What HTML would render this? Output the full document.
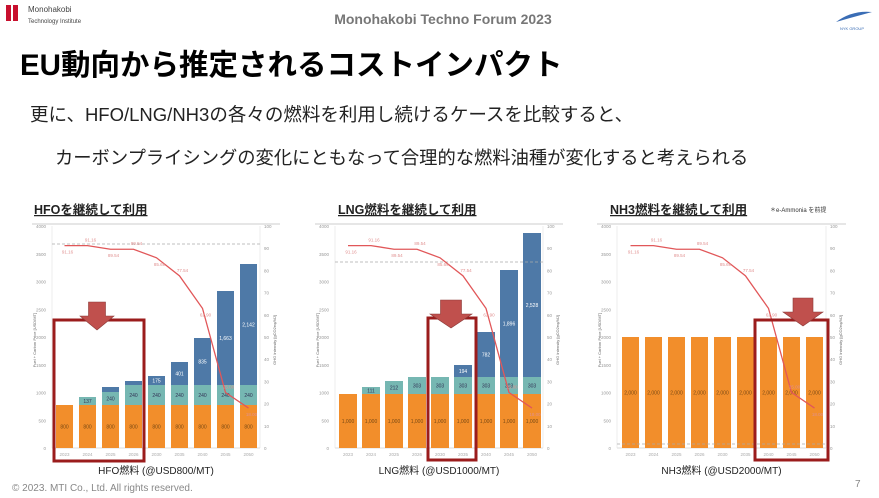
<!DOCTYPE html>
<html><head><meta charset="utf-8">
<style>
html,body{margin:0;padding:0;background:#fff;}
svg{display:block;font-family:"Liberation Sans","Noto Sans CJK JP",sans-serif;}
</style></head>
<body>
<svg id="s" width="879" height="498" viewBox="0 0 879 498" xmlns="http://www.w3.org/2000/svg">
<rect x="6" y="5" width="5" height="16" fill="#c8102e"/><rect x="13" y="5" width="5" height="16" fill="#c8102e"/>
<text x="28" y="12" font-size="8" fill="#444">Monohakobi</text>
<text x="28" y="23" font-size="6" fill="#444">Technology Institute</text>
<text x="443" y="24" font-size="14" font-weight="bold" fill="#777" text-anchor="middle">Monohakobi Techno Forum 2023</text>
<path d="M836 22 Q852 10 872 12 L850 18 Z" fill="#3a6db5"/>
<text x="852" y="30" font-size="4" fill="#3a6db5" text-anchor="middle">NYK GROUP</text>
<text x="20" y="75" font-size="29.5" font-weight="bold" fill="#000">EU動向から推定されるコストインパクト</text>
<text x="30" y="121" font-size="18.5" fill="#222">更に、HFO/LNG/NH3の各々の燃料を利用し続けるケースを比較すると、</text>
<text x="55" y="164" font-size="18.3" fill="#222">カーボンプライシングの変化にともなって合理的な燃料油種が変化すると考えられる</text>
<g id="charts"></g>
<text x="12" y="491" font-size="10" fill="#888">© 2023. MTI Co., Ltd. All rights reserved.</text>
<text x="855" y="487" font-size="10" fill="#888">7</text>
</svg>
<script>
const g=document.getElementById('charts');let h='';
const Y0=448,Y4=226;
const lineVals=[91.16,91.16,89.54,89.54,85.69,77.54,62.9,25,18];
const yr=['2023','2024','2025','2026','2030','2035','2040','2045','2050'];
function chart(o){
 const {bx,pw,L,R,title,cap,bars,dash,box,arrow,tx}=o;
 h+=`<line x1="${L-20}" y1="${Y4-2}" x2="${R+20}" y2="${Y4-2}" stroke="#e6e6e6" stroke-width="2"/>`;
 for(let i=0;i<=8;i++){const y=Y0-i*(Y0-Y4)/8;
  h+=`<text x="${L-6}" y="${y+2}" font-size="4.5" fill="#999" text-anchor="end">${i*500}</text>`;}
 for(let i=0;i<=10;i++){const y=Y0-i*(Y0-Y4)/10;
  h+=`<text x="${R+4}" y="${y+2}" font-size="4.5" fill="#999">${i*10}</text>`;}
 h+=`<line x1="${L}" y1="${Y4}" x2="${L}" y2="${Y0}" stroke="#eee"/><line x1="${R}" y1="${Y4}" x2="${R}" y2="${Y0}" stroke="#eee"/>`;
 h+=`<line x1="${L}" y1="${Y0}" x2="${R}" y2="${Y0}" stroke="#ddd"/>`;
 bars.forEach((b,i)=>{const x=bx+i*23;
  h+=`<rect x="${x}" y="${b[0]}" width="${pw}" height="${Y0-b[0]}" fill="#f28e2b"/>`;
  h+=`<text x="${x+pw/2}" y="${(b[0]+Y0)/2+2}" font-size="5" fill="#7a4a14" text-anchor="middle">${b[3]}</text>`;
  if(b[1]<b[0]){h+=`<rect x="${x}" y="${b[1]}" width="${pw}" height="${b[0]-b[1]}" fill="#76b7b2"/>`;
   h+=`<text x="${x+pw/2}" y="${(b[0]+b[1])/2+2}" font-size="5" fill="#335" text-anchor="middle">${b[4]}</text>`;}
  if(b[2]<b[1]){h+=`<rect x="${x}" y="${b[2]}" width="${pw}" height="${b[1]-b[2]}" fill="#4e79a7"/>`;
   if(b[1]-b[2]>8)h+=`<text x="${x+pw/2}" y="${(b[1]+b[2])/2+2}" font-size="5" fill="#fff" text-anchor="middle">${b[5]}</text>`;}
  h+=`<text x="${x+pw/2}" y="456" font-size="4.5" fill="#aaa" text-anchor="middle">${yr[i]}</text>`;});
 if(dash)h+=`<line x1="${L}" y1="${dash}" x2="${R}" y2="${dash}" stroke="#aaa" stroke-dasharray="3,2" stroke-width="0.7"/>`;
 let p=lineVals.map((v,i)=>`${bx+i*23+pw/2},${Y0-v*2.22}`).join(' ');
 h+=`<polyline points="${p}" fill="none" stroke="#e15759" stroke-width="1.3"/>`;
 lineVals.forEach((v,i)=>{h+=`<text x="${bx+i*23+pw/2+3}" y="${Y0-v*2.22+(i%2?-4:8)}" font-size="4.5" fill="#e09090" text-anchor="middle">${v.toFixed(2)}</text>`;});
 h+=`<text x="${L-16}" y="340" font-size="4" fill="#666" transform="rotate(-90 ${L-16} 340)" text-anchor="middle">Fuel + Carbon Price [USD/MT]</text>`;
 h+=`<text x="${R+16}" y="340" font-size="4" fill="#666" transform="rotate(-90 ${R+16} 340)" text-anchor="middle">GHG Intensity [gCO2eq/MJ]</text>`;
 h+=`<text x="${tx}" y="214" font-size="12.5" font-weight="bold" fill="#222" text-decoration="underline">${title}</text>`;
 h+=`<text x="${(L+R)/2}" y="474" font-size="10" fill="#222" text-anchor="middle">${cap}</text>`;
 h+=`<rect x="${box[0]}" y="${box[1]}" width="${box[2]-box[0]}" height="${box[3]-box[1]}" fill="none" stroke="#9b1c1c" stroke-width="3"/>`;
 const [ax,ay,aw]=arrow;
 h+=`<path d="M${ax+aw*0.25} ${ay} h${aw*0.5} v14 h${aw*0.25} l-${aw/2} 14 l-${aw/2} -14 h${aw*0.25} z" fill="#c0504d" stroke="#8b3a38" stroke-width="0.6"/>`;
}
chart({bx:56,pw:17,L:52,R:260,tx:34,title:'HFOを継続して利用',cap:'HFO燃料 (@USD800/MT)',dash:244,
 bars:[[405,405,405,'800','0',''],[405,397,397,'800','137',''],[405,392,387,'800','240','64'],[405,385,381,'800','240','88'],[405,385,376,'800','240','175'],[405,385,362,'800','240','401'],[405,385,338,'800','240','835'],[405,385,291,'800','240','1,663'],[405,385,264,'800','240','2,142']],
 box:[54,320,144,461],arrow:[80,302,34]});
chart({bx:339,pw:18,L:335,R:543,tx:338,title:'LNG燃料を継続して利用',cap:'LNG燃料 (@USD1000/MT)',dash:262,
 bars:[[394,394,394,'1,000','0',''],[394,387,387,'1,000','111',''],[394,381,381,'1,000','212',''],[394,377,377,'1,000','303',''],[394,377,377,'1,000','303',''],[394,377,365,'1,000','303','194'],[394,377,332,'1,000','303','782'],[394,377,270,'1,000','303','1,896'],[394,377,233,'1,000','303','2,528']],
 box:[428,318,476,460],arrow:[430,300,42]});
chart({bx:622,pw:17,L:617,R:826,tx:610,title:'NH3燃料を継続して利用',cap:'NH3燃料 (@USD2000/MT)',dash:444,
 bars:Array(9).fill([337,337,337,'2,000','','']),
 box:[755,320,828,460],arrow:[783,298,40]});
h+=`<text x="770" y="212" font-size="6" fill="#333">＊e-Ammonia を前提</text>`;
g.innerHTML=h;
</script>
</body></html>
